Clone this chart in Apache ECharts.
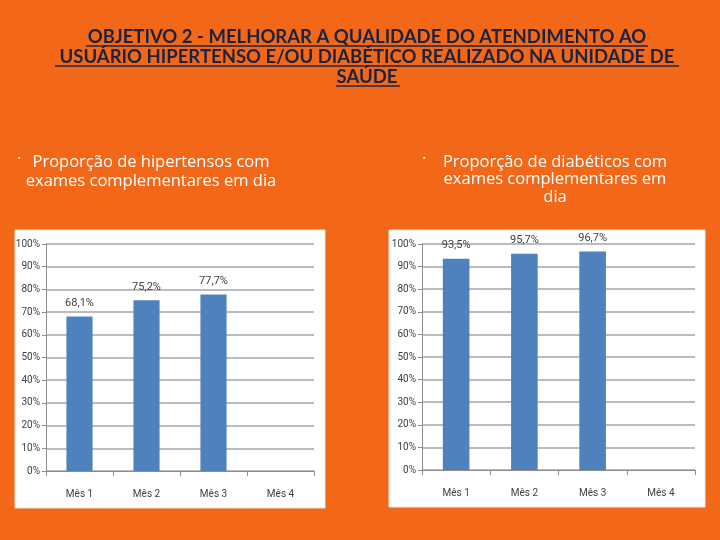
<!DOCTYPE html>
<html><head><meta charset="utf-8">
<script src="https://cdn.jsdelivr.net/npm/echarts@6/dist/echarts.min.js"></script>
<style>html,body{margin:0;padding:0;background:#F26818;}#c{width:720px;height:540px;}</style>
</head><body><div id="c"></div>
<script>
var categories = ['Mês 1', 'Mês 2', 'Mês 3', 'Mês 4'];
var hipertensos = [68.1, 75.2, 77.7, null];
var diabeticos = [93.5, 95.7, 96.7, null];
var yTicks = [0, 10, 20, 30, 40, 50, 60, 70, 80, 90, 100];
var titleLines = ['OBJETIVO 2 - MELHORAR A QUALIDADE DO ATENDIMENTO AO', 'USUÁRIO HIPERTENSO E/OU DIABÉTICO REALIZADO NA UNIDADE DE', 'SAÚDE'];
var subLeft = ['Proporção de hipertensos com', 'exames complementares em dia'];
var subRight = ['Proporção de diabéticos com', 'exames complementares em', 'dia'];

var chart = echarts.init(document.getElementById('c'));
var axisFont = {fontFamily: 'Liberation Sans Narrow, Arial Narrow, Roboto, sans-serif', fontSize: 10, color: '#404040'};
function xAxis(i) {
  return {gridIndex: i, type: 'category', data: categories, boundaryGap: true,
    axisLine: {lineStyle: {color: '#8c8c8c'}}, axisTick: {show: true, length: 5, lineStyle: {color: '#8c8c8c'}},
    axisLabel: Object.assign({margin: 18}, axisFont)};
}
function yAxis(i) {
  return {gridIndex: i, type: 'value', min: 0, max: 100, interval: 10,
    axisLine: {show: true, lineStyle: {color: '#8c8c8c'}}, axisTick: {show: true, length: 4, lineStyle: {color: '#8c8c8c'}},
    splitLine: {lineStyle: {color: '#a6a6a6', width: 1.5}},
    axisLabel: Object.assign({margin: 6, formatter: function (v) { return yTicks.indexOf(v) >= 0 ? v + '%' : ''; }}, axisFont)};
}
function bar(i, data) {
  return {type: 'bar', xAxisIndex: i, yAxisIndex: i, data: data, barWidth: '39%',
    itemStyle: {color: '#4F81BD'},
    label: {show: true, position: 'top', distance: 8, fontFamily: axisFont.fontFamily, fontSize: 11, color: '#404040',
      formatter: function (p) { return p.value == null ? '' : p.value.toFixed(1).replace('.', ',') + '%'; }}};
}
var titleFont = 'Lato, "Open Sans", sans-serif';
var graphics = [
  {type: 'rect', shape: {x: 15, y: 230, width: 310, height: 278}, style: {fill: '#ffffff', stroke: '#e6e6e6'}, z: -10},
  {type: 'rect', shape: {x: 389, y: 230, width: 316, height: 277}, style: {fill: '#ffffff', stroke: '#e6e6e6'}, z: -10},
  {type: 'text', x: 18, y: 155, style: {text: '▪', fill: '#ffffff', font: '7px sans-serif'}},
  {type: 'text', x: 423, y: 155, style: {text: '▪', fill: '#ffffff', font: '7px sans-serif'}}
];
var titleY = [37, 57, 77];
titleLines.forEach(function (t, k) {
  graphics.push({type: 'text', x: 367, y: titleY[k], style: {text: t, fill: '#1c2340', font: 'bold 18.5px ' + titleFont, textAlign: 'center', textVerticalAlign: 'middle'}});
});
var ulines = [[86, 648], [55, 679], [336, 400]];
ulines.forEach(function (u, k) {
  graphics.push({type: 'line', shape: {x1: u[0], y1: titleY[k] + 9, x2: u[1], y2: titleY[k] + 9}, style: {stroke: '#1c2340', lineWidth: 1.5}});
});
var subFont = '16.5px "Open Sans", Lato, sans-serif';
graphics.push({type: 'text', x: 151, y: 162, style: {text: subLeft[0], fill: '#fff', font: subFont, textAlign: 'center', textVerticalAlign: 'middle'}});
graphics.push({type: 'text', x: 151, y: 181, style: {text: subLeft[1], fill: '#fff', font: subFont, textAlign: 'center', textVerticalAlign: 'middle'}});
subRight.forEach(function (t, k) {
  graphics.push({type: 'text', x: 555, y: 162 + k * 17.5, style: {text: t, fill: '#fff', font: subFont, textAlign: 'center', textVerticalAlign: 'middle'}});
});

chart.setOption({
  backgroundColor: '#F26818',
  animation: false,
  grid: [
    {left: 46, top: 244, width: 268, height: 227},
    {left: 422, top: 244, width: 273, height: 226}
  ],
  xAxis: [xAxis(0), xAxis(1)],
  yAxis: [yAxis(0), yAxis(1)],
  series: [bar(0, hipertensos), bar(1, diabeticos)],
  graphic: graphics
});
</script></body></html>
